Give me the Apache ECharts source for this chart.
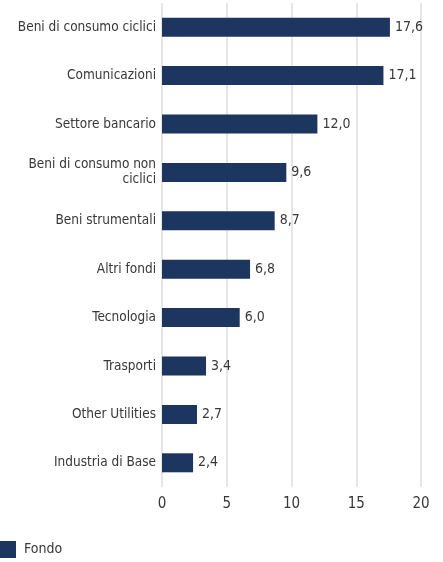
<!DOCTYPE html>
<html><head><meta charset="utf-8">
<script src="https://cdn.jsdelivr.net/npm/echarts@6/dist/echarts.min.js"></script>
<style>html,body{margin:0;padding:0;background:#fff}#c{width:443px;height:562px}</style>
</head><body><div id="c"></div>
<script>
const categories = ["Beni di consumo ciclici","Comunicazioni","Settore bancario","Beni di consumo non\nciclici","Beni strumentali","Altri fondi","Tecnologia","Trasporti","Other Utilities","Industria di Base"];
const fondo = [17.6,17.1,12.0,9.6,8.7,6.8,6.0,3.4,2.7,2.4];
const xTicks = [0,5,10,15,20];
const FONT = "'Liberation Sans Narrow','DejaVu Sans Condensed',sans-serif";
const chart = echarts.init(document.getElementById('c'));
chart.setOption({
  animation:false,
  textStyle:{fontFamily:FONT},
  grid:{left:162,right:22,top:3,bottom:75,containLabel:false},
  legend:{left:0,bottom:4,padding:0,itemWidth:16,itemHeight:17,itemGap:10,icon:'rect',
    textStyle:{fontFamily:FONT,fontSize:14,color:'#383838',padding:[0,0,0,3]},data:['Fondo']},
  xAxis:{type:'value',min:xTicks[0],max:xTicks[xTicks.length-1],interval:5,
    axisLine:{show:false},axisTick:{show:false},
    axisLabel:{fontFamily:FONT,fontSize:15,color:'#383838',margin:10},
    splitLine:{lineStyle:{color:'#e6e6e6',width:2}}},
  yAxis:{type:'category',inverse:true,data:categories,
    axisLabel:{fontFamily:FONT,fontSize:13.5,color:'#383838',margin:6,lineHeight:15},
    axisLine:{show:false},axisTick:{show:false}},
  series:[{name:'Fondo',type:'bar',data:fondo,barWidth:19,
    itemStyle:{color:'#1c365f'},
    label:{show:true,position:'right',distance:5,fontFamily:FONT,fontSize:14,color:'#383838',
      formatter:p=>p.value.toFixed(1).replace('.',',')}}]
});
</script></body></html>
